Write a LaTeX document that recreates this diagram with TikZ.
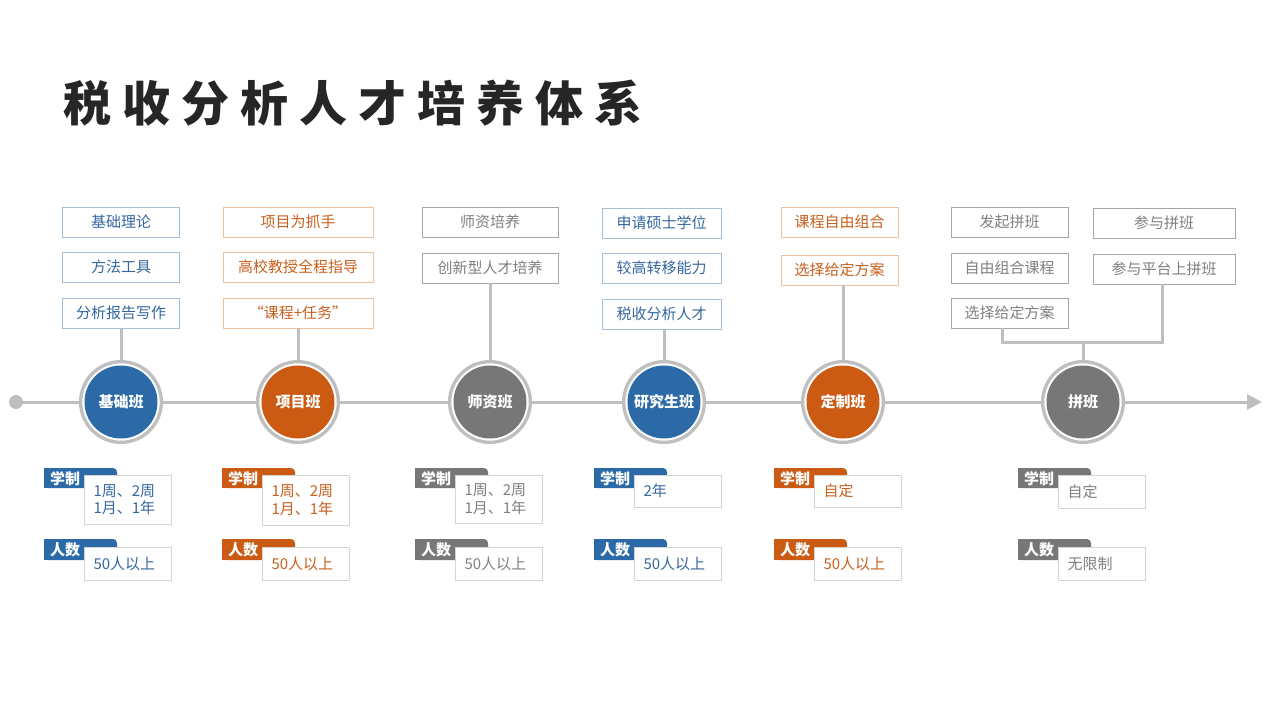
\documentclass[tikz,border=0pt]{standalone}
\usepackage{fontspec}
\setmainfont{Noto Sans CJK SC}
\usetikzlibrary{arrows.meta}
\definecolor{cblue}{HTML}{2B6AA6}
\definecolor{corange}{HTML}{CB5A13}
\definecolor{cgray}{HTML}{777777}
\definecolor{tblue}{HTML}{3567A0}
\definecolor{torange}{HTML}{C8601E}
\definecolor{tgray}{HTML}{808080}
\definecolor{bblue}{HTML}{A3BFDA}
\definecolor{borange}{HTML}{F0C19C}
\definecolor{bgray}{HTML}{A6A6A6}
\definecolor{linegray}{HTML}{BFBFBF}
\definecolor{valborder}{HTML}{D4D4D4}
\definecolor{titlecol}{HTML}{262626}
\newcommand\tsp{\hspace{11pt}}
\tikzset{
  topbox/.style={draw=#1, line width=0.9pt, minimum height=30pt, inner sep=0pt, fill=white,
    font=\fontsize{15}{18}\selectfont},
  ringnode/.style={circle, draw=linegray, line width=3.3pt, fill=white, minimum size=80.7pt, inner sep=0pt},
  circnode/.style={circle, fill=#1, minimum size=73pt, inner sep=0pt, text=white,
    font=\bfseries\fontsize{15}{18}\selectfont},
  conn/.style={draw=linegray, line width=3pt},
  tagtxt/.style={text=white, inner sep=0pt, font=\bfseries\fontsize{15}{18}\selectfont},
  valbox/.style={draw=valborder, line width=1pt, fill=white, text width=69pt, inner xsep=9pt,
    inner ysep=0pt, align=left, font=\fontsize{15}{17.5}\selectfont},
}
% #1 id, #2 box left x, #3 fill colour, #4 text colour, #5 text 1, #6 box1 height, #7 text 2
\newcommand\bunit[7]{%
  \fill[#3, rounded corners=4pt] (#2-40,468) rectangle (#2+33,488);
  \fill[#3] (#2-40,468) rectangle (#2+20,488);
  \fill[#3] (#2-40,476) rectangle (#2+33,488);
  \node[tagtxt, anchor=west] (#1ta) at (#2-34,478.5) {学制};
  \node[valbox, text=#4, anchor=north west, minimum height=#6pt] (#1va) at (#2,474.5) {#5};
  \fill[#3, rounded corners=4pt] (#2-40,539) rectangle (#2+33,560);
  \fill[#3] (#2-40,539) rectangle (#2+20,560);
  \fill[#3] (#2-40,547) rectangle (#2+33,560);
  \node[tagtxt, anchor=west] (#1tb) at (#2-34,549.5) {人数};
  \node[valbox, text=#4, anchor=north west, minimum height=33pt] (#1vb) at (#2,547) {#7};
}
\begin{document}
\begin{tikzpicture}[x=1pt,y=-1pt]
\useasboundingbox (0,0) rectangle (1280,720);
\fill[white] (0,0) rectangle (1280,720);

% title
\node[anchor=west, inner sep=0pt, text=titlecol, font=\bfseries\fontsize{48}{52}\selectfont] (title) at (63,103)
  {税\tsp 收\tsp 分\tsp 析\tsp 人\tsp 才\tsp 培\tsp 养\tsp 体\tsp 系};

% timeline
\node[circle, fill=linegray, minimum size=14pt, inner sep=0pt] (dot) at (16,402) {};
\coordinate (tend) at (1262,402);
\draw[conn, -{Triangle[length=15pt,width=15pt]}] (dot.center) -- (tend);

% top boxes
\node[topbox=bblue, text=tblue, minimum width=117pt] (a1) at (121,222) {基础理论};
\node[topbox=bblue, text=tblue, minimum width=117pt] (a2) at (121,267) {方法工具};
\node[topbox=bblue, text=tblue, minimum width=117pt] (a3) at (121,313) {分析报告写作};

\node[topbox=borange, text=torange, minimum width=150pt] (b1) at (298,222) {项目为抓手};
\node[topbox=borange, text=torange, minimum width=150pt] (b2) at (298,267) {高校教授全程指导};
\node[topbox=borange, text=torange, minimum width=150pt] (b3) at (298,313) {“课程+任务”};

\node[topbox=bgray, text=tgray, minimum width=136pt] (d1) at (490,222) {师资培养};
\node[topbox=bgray, text=tgray, minimum width=136pt] (d2) at (490,268) {创新型人才培养};

\node[topbox=bblue, text=tblue, minimum width=119pt] (e1) at (661.5,223) {申请硕士学位};
\node[topbox=bblue, text=tblue, minimum width=119pt] (e2) at (661.5,268) {较高转移能力};
\node[topbox=bblue, text=tblue, minimum width=119pt] (e3) at (661.5,314) {税收分析人才};

\node[topbox=borange, text=torange, minimum width=117pt] (f1) at (839.5,222) {课程自由组合};
\node[topbox=borange, text=torange, minimum width=117pt] (f2) at (839.5,270) {选择给定方案};

\node[topbox=bgray, text=tgray, minimum width=117pt] (g1) at (1009.5,222) {发起拼班};
\node[topbox=bgray, text=tgray, minimum width=117pt] (g2) at (1009.5,268) {自由组合课程};
\node[topbox=bgray, text=tgray, minimum width=117pt] (g3) at (1009.5,313) {选择给定方案};
\node[topbox=bgray, text=tgray, minimum width=142pt] (h1) at (1164,223) {参与拼班};
\node[topbox=bgray, text=tgray, minimum width=142pt] (h2) at (1164,269) {参与平台上拼班};

% circles
\node[ringnode] (r1) at (121,402) {};
\node[circnode=cblue] (c1) at (121,402) {基础班};
\node[ringnode] (r2) at (298,402) {};
\node[circnode=corange] (c2) at (298,402) {项目班};
\node[ringnode] (r3) at (490,402) {};
\node[circnode=cgray] (c3) at (490,402) {师资班};
\node[ringnode] (r4) at (664,402) {};
\node[circnode=cblue] (c4) at (664,402) {研究生班};
\node[ringnode] (r5) at (843,402) {};
\node[circnode=corange] (c5) at (843,402) {定制班};
\node[ringnode] (r6) at (1083,402) {};
\node[circnode=cgray] (c6) at (1083,402) {拼班};

% connectors
\draw[conn] (a3.south) -- (r1.north);
\draw[conn] (b3.south) -- (r2.north);
\draw[conn] (d2.south) -- (r3.north);
\draw[conn] (r4.north) -- (r4.north |- e3.south);
\draw[conn] (r5.north) -- (r5.north |- f2.south);
\coordinate (jl) at (1002,342);
\coordinate (jr) at (1162,342);
\coordinate (jm) at (1083,342);
\draw[conn, line join=miter] (jl |- g3.south) -- (jl) -- (jr) -- (jr |- h2.south);
\draw[conn] (jm) -- (r6.north);

% bottom info
\bunit{p}{84}{cblue}{tblue}{1周、2周\\1月、1年}{49}{50人以上}
\bunit{q}{262}{corange}{torange}{1周、2周\\1月、1年}{50}{50人以上}
\bunit{s}{455}{cgray}{tgray}{1周、2周\\1月、1年}{48}{50人以上}
\bunit{u}{634}{cblue}{tblue}{2年}{32}{50人以上}
\bunit{v}{814}{corange}{torange}{自定}{32}{50人以上}
\bunit{w}{1058}{cgray}{tgray}{自定}{33}{无限制}
\end{tikzpicture}
\end{document}
